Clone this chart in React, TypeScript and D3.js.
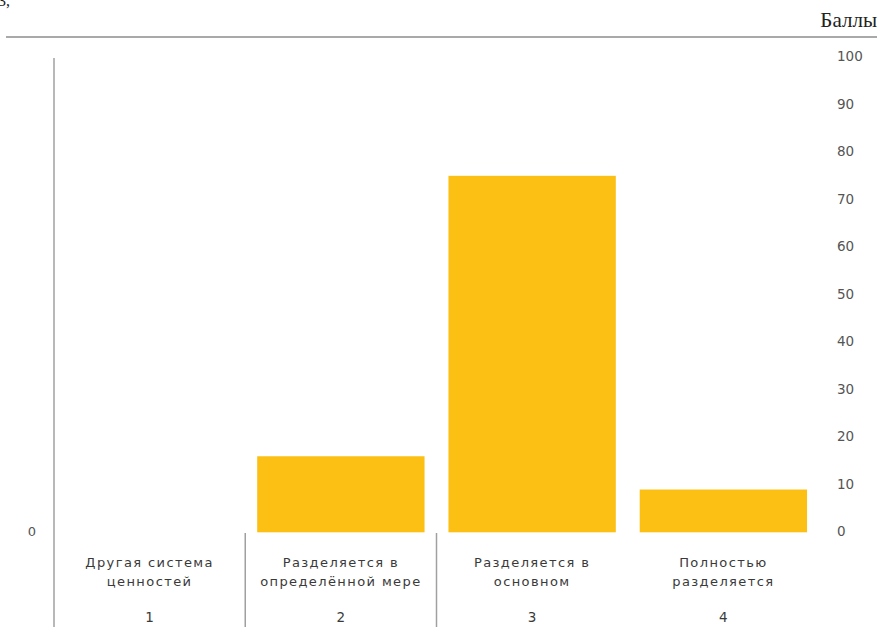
import React from "react";
import * as d3 from "d3";

const categories: string[][] = [
  ["Другая система", "ценностей"],
  ["Разделяется в", "определённой мере"],
  ["Разделяется в", "основном"],
  ["Полностью", "разделяется"],
];
const categoryNumbers = ["1", "2", "3", "4"];
const values = [0, 16, 75, 9];
const ticks = [0, 10, 20, 30, 40, 50, 60, 70, 80, 90, 100];
const unitLabel = "Баллы";

const W = 887;
const H = 627;

export default function App() {
  const x = d3
    .scaleBand<string>()
    .domain(categoryNumbers)
    .range([54, 819])
    .padding(0);
  const y = d3.scaleLinear().domain([0, 100]).range([532.3, 57]);
  const bw = x.bandwidth();
  const sans = "'DejaVu Sans', Verdana, sans-serif";

  return (
    <svg
      width={W}
      height={H}
      style={{ position: "absolute", left: 0, top: 0, background: "#fff" }}
    >
      <text x={-2} y={6} fontFamily="'Liberation Serif', serif" fontSize={16} fill="#222">
        3,
      </text>
      <text
        x={877}
        y={27}
        textAnchor="end"
        fontFamily="'Liberation Serif', 'Times New Roman', serif"
        fontSize={21}
        fill="#222"
      >
        {unitLabel}
      </text>
      <line x1={6} x2={877} y1={37} y2={37} stroke="#8c8c8c" strokeWidth={1.5} />

      {/* left axis line */}
      <line x1={54} x2={54} y1={58} y2={H} stroke="#a0a0a0" strokeWidth={1.5} />
      <text x={32} y={532} textAnchor="middle" dominantBaseline="middle" fontFamily={sans} fontSize={13} fill="#555">
        0
      </text>

      {/* bars */}
      {values.map((v, i) => {
        const c = categoryNumbers[i];
        const x0 = (x(c) as number) + bw * 0.0625;
        return v > 0 ? (
          <rect
            key={c}
            x={x0}
            y={y(v)}
            width={bw * 0.875}
            height={y(0) - y(v)}
            fill="#FCBF14"
          />
        ) : null;
      })}

      {/* separators */}
      {categoryNumbers.slice(1, 3).map((c) => (
        <line
          key={"s" + c}
          x1={x(c) as number}
          x2={x(c) as number}
          y1={533}
          y2={H}
          stroke="#a0a0a0"
          strokeWidth={1.5}
        />
      ))}

      {/* right axis labels */}
      {ticks.map((t) => (
        <text
          key={t}
          x={837}
          y={y(t)}
          dominantBaseline="middle"
          fontFamily={sans}
          fontSize={13.5}
          fill="#555"
        >
          {t}
        </text>
      ))}

      {/* category labels */}
      {categories.map((lines, i) => {
        const cx = (x(categoryNumbers[i]) as number) + bw / 2;
        return (
          <g key={"c" + i} fontFamily={sans} fontSize={13} fill="#3a3a3a" textAnchor="middle" letterSpacing={1.4}>
            <text x={cx} y={563} dominantBaseline="middle">
              {lines[0]}
            </text>
            <text x={cx} y={582} dominantBaseline="middle">
              {lines[1]}
            </text>
            <text x={cx} y={618} dominantBaseline="middle" fontSize={13.5} letterSpacing={0}>
              {categoryNumbers[i]}
            </text>
          </g>
        );
      })}
    </svg>
  );
}
